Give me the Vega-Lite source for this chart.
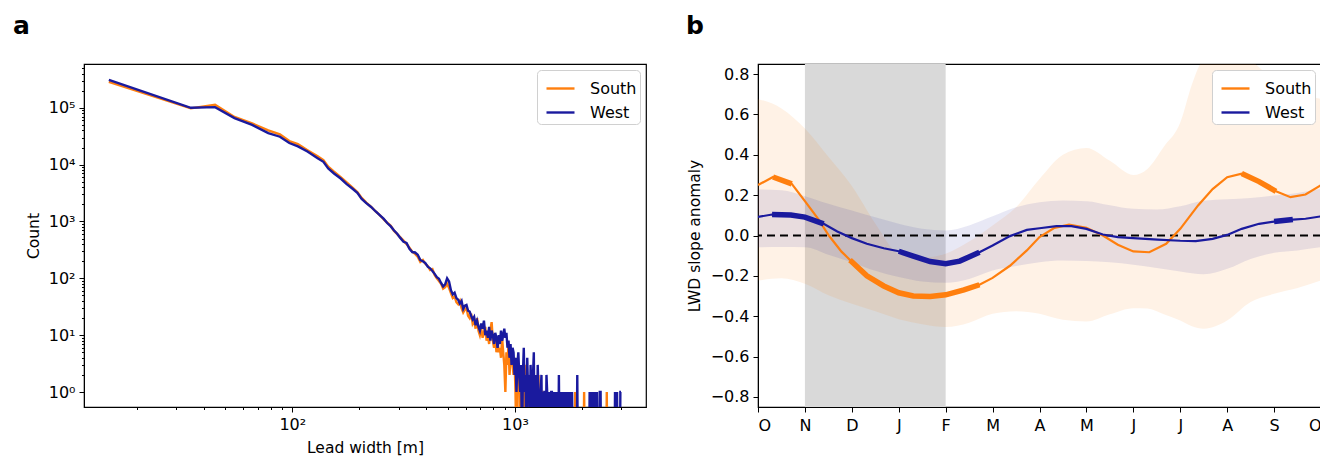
{
"$schema": "https://vega.github.io/schema/vega-lite/v6.json",
"padding": {"left": 12, "top": 13, "right": 0, "bottom": 0},
"bounds": "flush",
"spacing": 112,
"config": {
  "view": {"stroke": "black", "strokeWidth": 1.2},
  "font": "DejaVu Sans",
  "axis": {"labelFont": "DejaVu Sans", "titleFont": "DejaVu Sans", "labelFontSize": 16, "titleFontSize": 15.5, "titleFontWeight": "normal", "labelColor": "black", "titleColor": "black", "tickColor": "black", "domainColor": "black", "tickSize": 5, "labelPadding": 4, "titlePadding": 7, "grid": false},
  "legend": {"labelFont": "DejaVu Sans", "labelFontSize": 16, "labelColor": "black", "symbolStrokeWidth": 2.4, "symbolSize": 784, "padding": 3, "symbolOffset": 5, "strokeColor": "#d0d0d0", "fillColor": "#ffffff", "cornerRadius": 4, "rowPadding": -2, "labelOffset": 14, "offset": 6}
},
"resolve": {"scale": {"color": "independent"}, "legend": {"color": "independent"}},
"datasets": {
  "lw": [
{"r":"South","w":15,"c":285000},{"r":"South","w":35,"c":98000},{"r":"South","w":45,"c":113000},{"r":"South","w":55,"c":69000},{"r":"South","w":66,"c":53000},{"r":"South","w":78,"c":40000},{"r":"South","w":88,"c":34000},{"r":"South","w":97,"c":26000},{"r":"South","w":106,"c":23000},{"r":"South","w":117,"c":18000},{"r":"South","w":130,"c":14000},{"r":"South","w":138,"c":12000},{"r":"South","w":145,"c":9200},{"r":"South","w":154,"c":7500},{"r":"South","w":165,"c":6000},{"r":"South","w":175,"c":4900},{"r":"South","w":186,"c":4000},{"r":"South","w":196,"c":3300},{"r":"South","w":205,"c":2600},{"r":"South","w":215,"c":2150},{"r":"South","w":226,"c":1800},{"r":"South","w":237,"c":1500},{"r":"South","w":247,"c":1300},{"r":"South","w":257,"c":1100},{"r":"South","w":267,"c":950},{"r":"South","w":277,"c":840},{"r":"South","w":286,"c":690},{"r":"South","w":296,"c":600},{"r":"South","w":305,"c":530},{"r":"South","w":316,"c":460},{"r":"South","w":326,"c":400},{"r":"South","w":336,"c":345},{"r":"South","w":346,"c":295},{"r":"South","w":356,"c":270},{"r":"South","w":366,"c":240},{"r":"South","w":376,"c":195},{"r":"South","w":386,"c":210},{"r":"South","w":396,"c":180},{"r":"South","w":406,"c":165},{"r":"South","w":416,"c":140},{"r":"South","w":426,"c":145},{"r":"South","w":436,"c":115},{"r":"South","w":446,"c":100},{"r":"South","w":456,"c":90},{"r":"South","w":466,"c":80},{"r":"South","w":476,"c":66},{"r":"South","w":486,"c":70},{"r":"South","w":496,"c":80},{"r":"South","w":506,"c":68},{"r":"South","w":516,"c":55},{"r":"South","w":526,"c":45},{"r":"South","w":536,"c":48},{"r":"South","w":546,"c":38},{"r":"South","w":556,"c":35},{"r":"South","w":566,"c":40},{"r":"South","w":576,"c":30},{"r":"South","w":586,"c":25},{"r":"South","w":596,"c":28},{"r":"South","w":606,"c":30},{"r":"South","w":616,"c":22},{"r":"South","w":626,"c":20},{"r":"South","w":636,"c":24},{"r":"South","w":646,"c":16},{"r":"South","w":656,"c":18},{"r":"South","w":666,"c":13},{"r":"South","w":676,"c":20},{"r":"South","w":686,"c":12},{"r":"South","w":696,"c":10},{"r":"South","w":706,"c":13},{"r":"South","w":716,"c":9},{"r":"South","w":726,"c":11},{"r":"South","w":736,"c":14},{"r":"South","w":746,"c":8},{"r":"South","w":756,"c":10},{"r":"South","w":766,"c":7},{"r":"South","w":776,"c":12},{"r":"South","w":786,"c":17},{"r":"South","w":796,"c":8},{"r":"South","w":806,"c":6},{"r":"South","w":816,"c":10},{"r":"South","w":826,"c":5},{"r":"South","w":836,"c":8},{"r":"South","w":846,"c":5},{"r":"South","w":856,"c":6},{"r":"South","w":866,"c":4},{"r":"South","w":876,"c":9},{"r":"South","w":886,"c":5},{"r":"South","w":896,"c":3},{"r":"South","w":906,"c":1},{"r":"South","w":916,"c":5},{"r":"South","w":926,"c":3},{"r":"South","w":936,"c":7},{"r":"South","w":946,"c":2},{"r":"South","w":956,"c":4},{"r":"South","w":966,"c":5},{"r":"South","w":976,"c":3},{"r":"South","w":986,"c":2},{"r":"South","w":996,"c":4},{"r":"South","w":1006,"c":1},{"r":"South","w":1016,"c":0.1},{"r":"South","w":1026,"c":2},{"r":"South","w":1036,"c":1},{"r":"South","w":1046,"c":3},{"r":"South","w":1056,"c":0.1},{"r":"South","w":1066,"c":1},{"r":"South","w":1076,"c":2},{"r":"South","w":1086,"c":0.1},{"r":"South","w":1096,"c":1},{"r":"South","w":1106,"c":3},{"r":"South","w":1116,"c":1},{"r":"South","w":1126,"c":0.1},{"r":"South","w":1136,"c":2},{"r":"South","w":1146,"c":1},{"r":"South","w":1156,"c":0.1},{"r":"South","w":1166,"c":1},{"r":"South","w":1176,"c":2},{"r":"South","w":1186,"c":0.1},{"r":"South","w":1196,"c":1},{"r":"South","w":1206,"c":1},{"r":"South","w":1216,"c":0.1},{"r":"South","w":1226,"c":2},{"r":"South","w":1236,"c":0.1},{"r":"South","w":1246,"c":1},{"r":"South","w":1256,"c":1},{"r":"South","w":1266,"c":0.1},{"r":"South","w":1276,"c":2},{"r":"South","w":1286,"c":0.1},{"r":"South","w":1296,"c":1},{"r":"South","w":1306,"c":0.1},{"r":"South","w":1316,"c":1},{"r":"South","w":1326,"c":1},{"r":"South","w":1336,"c":0.1},{"r":"South","w":1346,"c":1},{"r":"South","w":1356,"c":0.1},{"r":"South","w":1366,"c":0.1},{"r":"South","w":1376,"c":1},{"r":"South","w":1386,"c":0.1},{"r":"South","w":1396,"c":0.1},{"r":"South","w":1406,"c":1},{"r":"South","w":1416,"c":0.1},{"r":"South","w":1426,"c":0.1},{"r":"South","w":1436,"c":1},{"r":"South","w":1446,"c":0.1},{"r":"South","w":1456,"c":0.1},{"r":"South","w":1466,"c":1},{"r":"South","w":1476,"c":0.1},{"r":"South","w":1486,"c":0.1},{"r":"South","w":1496,"c":1},{"r":"South","w":1506,"c":0.1},{"r":"South","w":1536,"c":0.1},{"r":"South","w":1546,"c":1},{"r":"South","w":1556,"c":0.1},{"r":"South","w":1586,"c":0.1},{"r":"South","w":1596,"c":1},{"r":"South","w":1606,"c":0.1},{"r":"South","w":1646,"c":0.1},{"r":"South","w":1656,"c":1},{"r":"South","w":1666,"c":0.1},{"r":"South","w":1706,"c":0.1},{"r":"South","w":1716,"c":1},{"r":"South","w":1726,"c":0.1},{"r":"South","w":1776,"c":0.1},{"r":"South","w":1786,"c":1},{"r":"South","w":1796,"c":0.1},{"r":"South","w":1856,"c":0.1},{"r":"South","w":1866,"c":1},{"r":"South","w":1876,"c":0.1},{"r":"South","w":2036,"c":0.1},{"r":"South","w":2046,"c":1},{"r":"South","w":2056,"c":0.1},{"r":"South","w":2576,"c":0.1},{"r":"South","w":2586,"c":1},{"r":"South","w":2596,"c":0.1},
{"r":"West","w":15,"c":310000},{"r":"West","w":35,"c":100000},{"r":"West","w":45,"c":103000},{"r":"West","w":55,"c":66000},{"r":"West","w":66,"c":50000},{"r":"West","w":78,"c":36000},{"r":"West","w":88,"c":31000},{"r":"West","w":97,"c":24000},{"r":"West","w":106,"c":21000},{"r":"West","w":117,"c":17000},{"r":"West","w":130,"c":13000},{"r":"West","w":138,"c":11200},{"r":"West","w":145,"c":8600},{"r":"West","w":154,"c":7000},{"r":"West","w":165,"c":5700},{"r":"West","w":175,"c":4600},{"r":"West","w":186,"c":3800},{"r":"West","w":196,"c":3200},{"r":"West","w":205,"c":2500},{"r":"West","w":215,"c":2100},{"r":"West","w":226,"c":1800},{"r":"West","w":237,"c":1500},{"r":"West","w":247,"c":1300},{"r":"West","w":257,"c":1120},{"r":"West","w":267,"c":940},{"r":"West","w":277,"c":820},{"r":"West","w":286,"c":700},{"r":"West","w":296,"c":610},{"r":"West","w":305,"c":520},{"r":"West","w":316,"c":440},{"r":"West","w":326,"c":420},{"r":"West","w":336,"c":330},{"r":"West","w":346,"c":290},{"r":"West","w":356,"c":285},{"r":"West","w":366,"c":260},{"r":"West","w":376,"c":210},{"r":"West","w":386,"c":200},{"r":"West","w":396,"c":185},{"r":"West","w":406,"c":160},{"r":"West","w":416,"c":150},{"r":"West","w":426,"c":135},{"r":"West","w":436,"c":120},{"r":"West","w":446,"c":105},{"r":"West","w":456,"c":98},{"r":"West","w":466,"c":83},{"r":"West","w":476,"c":72},{"r":"West","w":486,"c":78},{"r":"West","w":496,"c":100},{"r":"West","w":506,"c":88},{"r":"West","w":516,"c":62},{"r":"West","w":526,"c":52},{"r":"West","w":536,"c":56},{"r":"West","w":546,"c":45},{"r":"West","w":556,"c":42},{"r":"West","w":566,"c":36},{"r":"West","w":576,"c":40},{"r":"West","w":586,"c":29},{"r":"West","w":596,"c":33},{"r":"West","w":606,"c":34},{"r":"West","w":616,"c":27},{"r":"West","w":626,"c":26},{"r":"West","w":636,"c":22},{"r":"West","w":646,"c":19},{"r":"West","w":656,"c":21},{"r":"West","w":666,"c":15},{"r":"West","w":676,"c":18},{"r":"West","w":686,"c":14},{"r":"West","w":696,"c":12},{"r":"West","w":706,"c":16},{"r":"West","w":716,"c":13},{"r":"West","w":726,"c":18},{"r":"West","w":736,"c":10},{"r":"West","w":746,"c":12},{"r":"West","w":756,"c":9},{"r":"West","w":766,"c":14},{"r":"West","w":776,"c":8},{"r":"West","w":786,"c":12},{"r":"West","w":796,"c":10},{"r":"West","w":806,"c":7},{"r":"West","w":816,"c":11},{"r":"West","w":826,"c":9},{"r":"West","w":836,"c":6},{"r":"West","w":846,"c":10},{"r":"West","w":856,"c":7},{"r":"West","w":866,"c":12},{"r":"West","w":876,"c":8},{"r":"West","w":886,"c":10},{"r":"West","w":896,"c":13},{"r":"West","w":906,"c":9},{"r":"West","w":916,"c":11},{"r":"West","w":926,"c":6},{"r":"West","w":936,"c":8},{"r":"West","w":946,"c":4},{"r":"West","w":956,"c":7},{"r":"West","w":966,"c":3},{"r":"West","w":976,"c":6},{"r":"West","w":986,"c":5},{"r":"West","w":996,"c":2},{"r":"West","w":1006,"c":4},{"r":"West","w":1016,"c":1},{"r":"West","w":1026,"c":3},{"r":"West","w":1036,"c":5},{"r":"West","w":1046,"c":2},{"r":"West","w":1056,"c":1},{"r":"West","w":1066,"c":3},{"r":"West","w":1076,"c":0.1},{"r":"West","w":1086,"c":2},{"r":"West","w":1096,"c":6},{"r":"West","w":1106,"c":1},{"r":"West","w":1116,"c":2},{"r":"West","w":1126,"c":0.1},{"r":"West","w":1136,"c":4},{"r":"West","w":1146,"c":1},{"r":"West","w":1156,"c":2},{"r":"West","w":1166,"c":0.1},{"r":"West","w":1176,"c":3},{"r":"West","w":1186,"c":1},{"r":"West","w":1196,"c":0.1},{"r":"West","w":1206,"c":2},{"r":"West","w":1216,"c":5},{"r":"West","w":1226,"c":0.1},{"r":"West","w":1236,"c":2},{"r":"West","w":1246,"c":1},{"r":"West","w":1256,"c":0.1},{"r":"West","w":1266,"c":3},{"r":"West","w":1276,"c":1},{"r":"West","w":1286,"c":1},{"r":"West","w":1296,"c":0.1},{"r":"West","w":1306,"c":1},{"r":"West","w":1316,"c":2},{"r":"West","w":1326,"c":0.1},{"r":"West","w":1336,"c":1},{"r":"West","w":1346,"c":0.1},{"r":"West","w":1356,"c":1},{"r":"West","w":1366,"c":1},{"r":"West","w":1376,"c":0.1},{"r":"West","w":1386,"c":2},{"r":"West","w":1396,"c":1},{"r":"West","w":1406,"c":0.1},{"r":"West","w":1416,"c":1},{"r":"West","w":1426,"c":0.1},{"r":"West","w":1436,"c":1},{"r":"West","w":1446,"c":0.1},{"r":"West","w":1456,"c":1},{"r":"West","w":1466,"c":1},{"r":"West","w":1476,"c":0.1},{"r":"West","w":1486,"c":0.1},{"r":"West","w":1496,"c":1},{"r":"West","w":1506,"c":0.1},{"r":"West","w":1516,"c":0.1},{"r":"West","w":1526,"c":1},{"r":"West","w":1536,"c":0.1},{"r":"West","w":1546,"c":1},{"r":"West","w":1556,"c":0.1},{"r":"West","w":1566,"c":0.1},{"r":"West","w":1576,"c":2},{"r":"West","w":1586,"c":0.1},{"r":"West","w":1596,"c":0.1},{"r":"West","w":1606,"c":1},{"r":"West","w":1616,"c":0.1},{"r":"West","w":1626,"c":0.1},{"r":"West","w":1636,"c":1},{"r":"West","w":1646,"c":0.1},{"r":"West","w":1656,"c":0.1},{"r":"West","w":1666,"c":1},{"r":"West","w":1676,"c":0.1},{"r":"West","w":1686,"c":0.1},{"r":"West","w":1696,"c":1},{"r":"West","w":1706,"c":0.1},{"r":"West","w":1726,"c":0.1},{"r":"West","w":1736,"c":1},{"r":"West","w":1746,"c":0.1},{"r":"West","w":1756,"c":0.1},{"r":"West","w":1766,"c":1},{"r":"West","w":1776,"c":0.1},{"r":"West","w":1796,"c":0.1},{"r":"West","w":1806,"c":1},{"r":"West","w":1816,"c":0.1},{"r":"West","w":1896,"c":0.1},{"r":"West","w":1906,"c":2},{"r":"West","w":1916,"c":0.1},{"r":"West","w":2156,"c":0.1},{"r":"West","w":2166,"c":1},{"r":"West","w":2176,"c":0.1},{"r":"West","w":2186,"c":0.1},{"r":"West","w":2196,"c":1},{"r":"West","w":2206,"c":0.1},{"r":"West","w":2226,"c":0.1},{"r":"West","w":2236,"c":1},{"r":"West","w":2246,"c":0.1},{"r":"West","w":2276,"c":0.1},{"r":"West","w":2286,"c":1},{"r":"West","w":2296,"c":0.1},{"r":"West","w":2326,"c":0.1},{"r":"West","w":2336,"c":1},{"r":"West","w":2346,"c":0.1},{"r":"West","w":2396,"c":0.1},{"r":"West","w":2406,"c":1},{"r":"West","w":2416,"c":1},{"r":"West","w":2426,"c":1},{"r":"West","w":2436,"c":0.1},{"r":"West","w":2806,"c":0.1},{"r":"West","w":2816,"c":1},{"r":"West","w":2826,"c":0.1},{"r":"West","w":2866,"c":0.1},{"r":"West","w":2876,"c":1},{"r":"West","w":2886,"c":0.1},{"r":"West","w":2966,"c":0.1},{"r":"West","w":2976,"c":1},{"r":"West","w":2986,"c":1},{"r":"West","w":2996,"c":1}
  ],
  "bandS": [
{"m":0,"lo":-0.223,"hi":0.677},{"m":0.5,"lo":-0.212,"hi":0.63},{"m":1,"lo":-0.239,"hi":0.53},{"m":1.5,"lo":-0.296,"hi":0.39},{"m":2,"lo":-0.338,"hi":0.245},{"m":2.5,"lo":-0.376,"hi":0.06},{"m":3,"lo":-0.415,"hi":-0.09},{"m":3.5,"lo":-0.44,"hi":-0.11},{"m":4,"lo":-0.454,"hi":-0.09},{"m":4.5,"lo":-0.432,"hi":-0.03},{"m":5,"lo":-0.388,"hi":0.05},{"m":5.5,"lo":-0.375,"hi":0.14},{"m":6,"lo":-0.388,"hi":0.28},{"m":6.5,"lo":-0.418,"hi":0.4},{"m":7,"lo":-0.426,"hi":0.434},{"m":7.5,"lo":-0.39,"hi":0.37},{"m":8,"lo":-0.36,"hi":0.3},{"m":8.3,"lo":-0.362,"hi":0.33},{"m":8.65,"lo":-0.39,"hi":0.44},{"m":9,"lo":-0.421,"hi":0.56},{"m":9.25,"lo":-0.45,"hi":0.75},{"m":9.5,"lo":-0.462,"hi":0.88},{"m":10,"lo":-0.421,"hi":0.95},{"m":10.5,"lo":-0.33,"hi":0.87},{"m":11,"lo":-0.289,"hi":0.77},{"m":11.5,"lo":-0.26,"hi":0.71},{"m":12,"lo":-0.223,"hi":0.677}
  ],
  "bandW": [
{"m":0,"lo":-0.058,"hi":0.228},{"m":0.5,"lo":-0.057,"hi":0.224},{"m":1,"lo":-0.058,"hi":0.195},{"m":1.5,"lo":-0.095,"hi":0.157},{"m":2,"lo":-0.132,"hi":0.124},{"m":2.5,"lo":-0.175,"hi":0.09},{"m":3,"lo":-0.206,"hi":0.058},{"m":3.5,"lo":-0.228,"hi":0.033},{"m":4,"lo":-0.234,"hi":0.025},{"m":4.5,"lo":-0.215,"hi":0.05},{"m":5,"lo":-0.173,"hi":0.095},{"m":5.5,"lo":-0.151,"hi":0.14},{"m":6,"lo":-0.132,"hi":0.165},{"m":6.5,"lo":-0.124,"hi":0.173},{"m":7,"lo":-0.127,"hi":0.17},{"m":7.5,"lo":-0.133,"hi":0.15},{"m":8,"lo":-0.145,"hi":0.132},{"m":8.5,"lo":-0.161,"hi":0.129},{"m":9,"lo":-0.178,"hi":0.145},{"m":9.5,"lo":-0.192,"hi":0.172},{"m":10,"lo":-0.165,"hi":0.18},{"m":10.5,"lo":-0.116,"hi":0.186},{"m":11,"lo":-0.086,"hi":0.198},{"m":11.5,"lo":-0.074,"hi":0.211},{"m":12,"lo":-0.058,"hi":0.231}
  ],
  "lines": [
{"r":"South","m":0,"v":0.25},{"r":"South","m":0.32,"v":0.29},{"r":"South","m":0.72,"v":0.256},{"r":"South","m":1,"v":0.17},{"r":"South","m":1.29,"v":0.08},{"r":"South","m":1.51,"v":0},{"r":"South","m":1.78,"v":-0.08},{"r":"South","m":2,"v":-0.13},{"r":"South","m":2.32,"v":-0.2},{"r":"South","m":2.68,"v":-0.25},{"r":"South","m":3,"v":-0.284},{"r":"South","m":3.31,"v":-0.3},{"r":"South","m":3.67,"v":-0.302},{"r":"South","m":4,"v":-0.294},{"r":"South","m":4.39,"v":-0.27},{"r":"South","m":4.72,"v":-0.244},{"r":"South","m":5,"v":-0.21},{"r":"South","m":5.37,"v":-0.15},{"r":"South","m":5.73,"v":-0.074},{"r":"South","m":6,"v":-0.008},{"r":"South","m":6.32,"v":0.038},{"r":"South","m":6.63,"v":0.054},{"r":"South","m":7,"v":0.038},{"r":"South","m":7.35,"v":0},{"r":"South","m":7.67,"v":-0.046},{"r":"South","m":8,"v":-0.079},{"r":"South","m":8.34,"v":-0.083},{"r":"South","m":8.7,"v":-0.041},{"r":"South","m":9,"v":0.033},{"r":"South","m":9.38,"v":0.149},{"r":"South","m":9.69,"v":0.23},{"r":"South","m":10,"v":0.289},{"r":"South","m":10.31,"v":0.307},{"r":"South","m":10.68,"v":0.267},{"r":"South","m":11.04,"v":0.219},{"r":"South","m":11.35,"v":0.19},{"r":"South","m":11.67,"v":0.203},{"r":"South","m":12,"v":0.25},
{"r":"West","m":0,"v":0.092},{"r":"West","m":0.3,"v":0.104},{"r":"West","m":0.7,"v":0.102},{"r":"West","m":1,"v":0.091},{"r":"West","m":1.4,"v":0.058},{"r":"West","m":1.69,"v":0.02},{"r":"West","m":2,"v":-0.013},{"r":"West","m":2.32,"v":-0.041},{"r":"West","m":2.68,"v":-0.063},{"r":"West","m":3,"v":-0.078},{"r":"West","m":3.31,"v":-0.102},{"r":"West","m":3.67,"v":-0.129},{"r":"West","m":4,"v":-0.14},{"r":"West","m":4.3,"v":-0.127},{"r":"West","m":4.72,"v":-0.083},{"r":"West","m":5,"v":-0.05},{"r":"West","m":5.37,"v":-0.003},{"r":"West","m":5.73,"v":0.028},{"r":"West","m":6,"v":0.036},{"r":"West","m":6.36,"v":0.046},{"r":"West","m":6.68,"v":0.046},{"r":"West","m":7,"v":0.033},{"r":"West","m":7.35,"v":0.005},{"r":"West","m":7.67,"v":-0.008},{"r":"West","m":8,"v":-0.013},{"r":"West","m":8.52,"v":-0.02},{"r":"West","m":9,"v":-0.026},{"r":"West","m":9.33,"v":-0.028},{"r":"West","m":9.69,"v":-0.017},{"r":"West","m":10,"v":0.003},{"r":"West","m":10.31,"v":0.033},{"r":"West","m":10.68,"v":0.058},{"r":"West","m":11,"v":0.069},{"r":"West","m":11.4,"v":0.079},{"r":"West","m":11.67,"v":0.083},{"r":"West","m":12,"v":0.095}
  ],
  "thick": [
{"r":"South","g":1,"m":0.32,"v":0.29},{"r":"South","g":1,"m":0.72,"v":0.256},
{"r":"South","g":2,"m":1.96,"v":-0.122},{"r":"South","g":2,"m":2,"v":-0.13},{"r":"South","g":2,"m":2.32,"v":-0.2},{"r":"South","g":2,"m":2.68,"v":-0.25},{"r":"South","g":2,"m":3,"v":-0.284},{"r":"South","g":2,"m":3.31,"v":-0.3},{"r":"South","g":2,"m":3.67,"v":-0.302},{"r":"South","g":2,"m":4,"v":-0.294},{"r":"South","g":2,"m":4.39,"v":-0.27},{"r":"South","g":2,"m":4.72,"v":-0.244},
{"r":"South","g":3,"m":10.31,"v":0.307},{"r":"South","g":3,"m":10.68,"v":0.267},{"r":"South","g":3,"m":11.04,"v":0.219},
{"r":"West","g":4,"m":0.3,"v":0.104},{"r":"West","g":4,"m":0.7,"v":0.102},{"r":"West","g":4,"m":1,"v":0.091},{"r":"West","g":4,"m":1.4,"v":0.058},
{"r":"West","g":5,"m":3,"v":-0.078},{"r":"West","g":5,"m":3.31,"v":-0.102},{"r":"West","g":5,"m":3.67,"v":-0.129},{"r":"West","g":5,"m":4,"v":-0.14},{"r":"West","g":5,"m":4.3,"v":-0.127},{"r":"West","g":5,"m":4.72,"v":-0.083},
{"r":"West","g":6,"m":11,"v":0.069},{"r":"West","g":6,"m":11.4,"v":0.079}
  ]
},
"hconcat": [
  {
    "width": 562, "height": 343,
    "title": {"text": "a", "anchor": "start", "frame": "group", "dx": -71, "offset": 5, "baseline": "alphabetic", "fontSize": 25, "fontWeight": "bold", "font": "DejaVu Sans", "color": "black"},
    "data": {"name": "lw"},
    "layer": [
      {
        "mark": {"type": "line", "strokeWidth": 2.4, "clip": true},
        "encoding": {
          "x": {"field": "w", "type": "quantitative", "scale": {"type": "log", "domain": [11.6, 3880], "nice": false},
                "axis": {"values": [100, 1000], "labelExpr": "datum.value == 100 ? '10²' : '10³'", "title": "Lead width [m]", "orient": "bottom", "titlePadding": 8}},
          "y": {"field": "c", "type": "quantitative", "scale": {"type": "log", "domain": [0.545, 590000], "nice": false},
                "axis": {"values": [1, 10, 100, 1000, 10000, 100000], "labelExpr": "'10' + ['⁰','¹','²','³','⁴','⁵'][round(log(datum.value)/LN10)]", "title": "Count", "orient": "left"}},
          "color": {"field": "r", "type": "nominal", "scale": {"domain": ["South", "West"], "range": ["#ff7f0e", "#1a1a9e"]}, "legend": {"title": null, "orient": "top-right"}}
        }
      },
      {
        "mark": {"type": "point", "opacity": 0, "clip": true},
        "encoding": {
          "x": {"field": "w", "type": "quantitative", "axis": {"values": [20, 30, 40, 50, 60, 70, 80, 90, 200, 300, 400, 500, 600, 700, 800, 900, 2000, 3000], "labels": false, "tickSize": 2.5, "domain": false, "title": null, "orient": "bottom"}},
          "y": {"field": "c", "type": "quantitative", "axis": {"values": [2,3,4,5,6,7,8,9,20,30,40,50,60,70,80,90,200,300,400,500,600,700,800,900,2000,3000,4000,5000,6000,7000,8000,9000,20000,30000,40000,50000,60000,70000,80000,90000,200000,300000,400000,500000], "labels": false, "tickSize": 2.5, "domain": false, "title": null, "orient": "left"}}
        }
      }
    ],
    "resolve": {"axis": {"x": "independent", "y": "independent"}}
  },
  {
    "width": 563, "height": 343,
    "title": {"text": "b", "anchor": "start", "frame": "group", "dx": -72, "offset": 5, "baseline": "alphabetic", "fontSize": 25, "fontWeight": "bold", "font": "DejaVu Sans", "color": "black"},
    "layer": [
      {
        "data": {"values": [{"s": 1, "e": 4}]},
        "mark": {"type": "rect", "color": "#d9d9d9"},
        "encoding": {
          "x": {"field": "s", "type": "quantitative", "scale": {"domain": [0, 12], "nice": false, "zero": false},
                "axis": {"values": [0,1,2,3,4,5,6,7,8,9,10,11,12], "labelExpr": "['O','N','D','J','F','M','A','M','J','J','A','S','O'][datum.value]", "title": null, "labelPadding": 5}},
          "x2": {"field": "e"}
        }
      },
      {
        "data": {"name": "bandS"},
        "mark": {"type": "area", "color": "#ff7f0e", "opacity": 0.1, "clip": true, "interpolate": "monotone"},
        "encoding": {
          "x": {"field": "m", "type": "quantitative", "axis": {"values": [0,1,2,3,4,5,6,7,8,9,10,11,12], "labelExpr": "['O','N','D','J','F','M','A','M','J','J','A','S','O'][datum.value]", "title": null, "labelPadding": 5}},
          "y": {"field": "hi", "type": "quantitative", "scale": {"domain": [-0.85, 0.85], "nice": false},
                "axis": {"values": [-0.8, -0.6, -0.4, -0.2, 0, 0.2, 0.4, 0.6, 0.8], "format": ".1f", "labelExpr": "replace(datum.label, '-', '−')", "title": "LWD slope anomaly", "titlePadding": 8}},
          "y2": {"field": "lo"}
        }
      },
      {
        "data": {"name": "bandW"},
        "mark": {"type": "area", "color": "#1a1a9e", "opacity": 0.1, "clip": true, "interpolate": "monotone"},
        "encoding": {
          "x": {"field": "m", "type": "quantitative", "axis": {"values": [0,1,2,3,4,5,6,7,8,9,10,11,12], "labelExpr": "['O','N','D','J','F','M','A','M','J','J','A','S','O'][datum.value]", "title": null, "labelPadding": 5}},
          "y": {"field": "hi", "type": "quantitative", "axis": {"values": [-0.8, -0.6, -0.4, -0.2, 0, 0.2, 0.4, 0.6, 0.8], "format": ".1f", "labelExpr": "replace(datum.label, '-', '−')", "title": "LWD slope anomaly", "titlePadding": 8}},
          "y2": {"field": "lo"}
        }
      },
      {
        "data": {"values": [{"z": 0}]},
        "mark": {"type": "rule", "strokeDash": [8, 5], "strokeWidth": 2, "color": "black"},
        "encoding": {"y": {"field": "z", "type": "quantitative", "axis": {"values": [-0.8, -0.6, -0.4, -0.2, 0, 0.2, 0.4, 0.6, 0.8], "format": ".1f", "labelExpr": "replace(datum.label, '-', '−')", "title": "LWD slope anomaly", "titlePadding": 8}}}
      },
      {
        "data": {"name": "lines"},
        "mark": {"type": "line", "strokeWidth": 2.2, "clip": true},
        "encoding": {
          "x": {"field": "m", "type": "quantitative", "axis": {"values": [0,1,2,3,4,5,6,7,8,9,10,11,12], "labelExpr": "['O','N','D','J','F','M','A','M','J','J','A','S','O'][datum.value]", "title": null, "labelPadding": 5}},
          "y": {"field": "v", "type": "quantitative", "axis": {"values": [-0.8, -0.6, -0.4, -0.2, 0, 0.2, 0.4, 0.6, 0.8], "format": ".1f", "labelExpr": "replace(datum.label, '-', '−')", "title": "LWD slope anomaly", "titlePadding": 8}},
          "color": {"field": "r", "type": "nominal", "scale": {"domain": ["South", "West"], "range": ["#ff7f0e", "#1a1a9e"]}, "legend": {"title": null, "orient": "top-right"}}
        }
      },
      {
        "data": {"name": "thick"},
        "transform": [{"filter": "datum.r == 'South'"}],
        "mark": {"type": "line", "strokeWidth": 5.5, "color": "#ff7f0e"},
        "encoding": {
          "x": {"field": "m", "type": "quantitative", "axis": {"values": [0,1,2,3,4,5,6,7,8,9,10,11,12], "labelExpr": "['O','N','D','J','F','M','A','M','J','J','A','S','O'][datum.value]", "title": null, "labelPadding": 5}},
          "y": {"field": "v", "type": "quantitative", "axis": {"values": [-0.8, -0.6, -0.4, -0.2, 0, 0.2, 0.4, 0.6, 0.8], "format": ".1f", "labelExpr": "replace(datum.label, '-', '−')", "title": "LWD slope anomaly", "titlePadding": 8}},
          "detail": {"field": "g", "type": "nominal"}
        }
      },
      {
        "data": {"name": "thick"},
        "transform": [{"filter": "datum.r == 'West'"}],
        "mark": {"type": "line", "strokeWidth": 5.5, "color": "#1a1a9e"},
        "encoding": {
          "x": {"field": "m", "type": "quantitative", "axis": {"values": [0,1,2,3,4,5,6,7,8,9,10,11,12], "labelExpr": "['O','N','D','J','F','M','A','M','J','J','A','S','O'][datum.value]", "title": null, "labelPadding": 5}},
          "y": {"field": "v", "type": "quantitative", "axis": {"values": [-0.8, -0.6, -0.4, -0.2, 0, 0.2, 0.4, 0.6, 0.8], "format": ".1f", "labelExpr": "replace(datum.label, '-', '−')", "title": "LWD slope anomaly", "titlePadding": 8}},
          "detail": {"field": "g", "type": "nominal"}
        }
      }
    ]
  }
]
}
